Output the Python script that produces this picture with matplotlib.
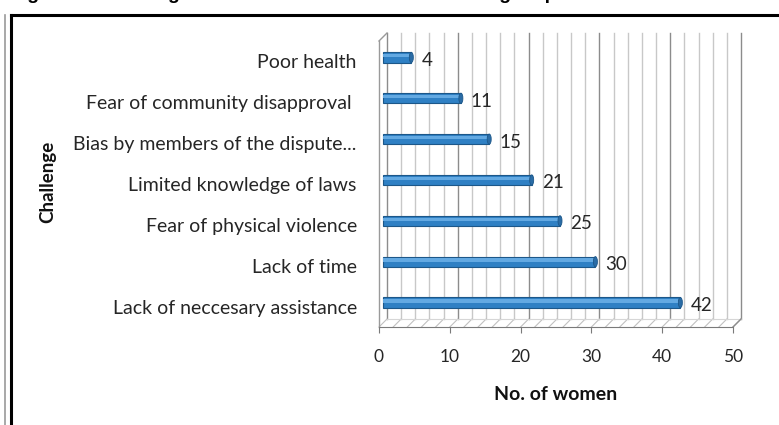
import numpy as np
import matplotlib
matplotlib.use("Agg")
import matplotlib.pyplot as plt
from matplotlib.lines import Line2D
from matplotlib.patches import Ellipse

challenges = ["Lack of neccesary assistance", "Lack of time",
              "Fear of physical violence", "Limited knowledge of laws",
              "Bias by members of the dispute...",
              "Fear of community disapproval ", "Poor health"]
women = [42, 30, 25, 21, 15, 11, 4]
xticks = [0, 10, 20, 30, 40, 50]

W, H = 779, 425
fig = plt.figure(figsize=(W / 100, H / 100), dpi=100)
plt.rcParams["font.family"] = ["Lato", "DejaVu Sans"]

# front plane of the 3-D plot, in pixels
x0, x1, yb, yt = 379, 733, 327, 41
ax = fig.add_axes([x0 / W, 1 - yb / H, (x1 - x0) / W, (yb - yt) / H])
ax.set_xlim(0, 50)
ax.set_ylim(-0.5, 6.5)
ax.patch.set_alpha(0)

# depth offset (8 px right, 8 px up) in data units
ppx = 50 / (x1 - x0)
ppy = 7 / (yb - yt)
ddx, ddy = 8 * ppx, 8 * ppy

# back wall grid
for v in range(0, 51, 2):
    col = "#8c8c8c" if v % 10 == 0 else "#c8c8c8"
    ax.plot([v + ddx, v + ddx], [-0.5 + ddy, 6.5 + ddy], color=col, lw=1.0,
            clip_on=False, zorder=1)
    # floor diagonals
    ax.plot([v, v + ddx], [-0.5, -0.5 + ddy], color="#c0c0c0", lw=0.8,
            clip_on=False, zorder=1)
ax.plot([ddx, 50 + ddx], [-0.5 + ddy, -0.5 + ddy], color="#d6d6d6", lw=0.8,
        clip_on=False, zorder=1)
# left wall
ax.plot([0, 0], [-0.5, 6.5], color="#9a9a9a", lw=1.0, clip_on=False, zorder=1)
ax.plot([0, ddx], [6.5, 6.5 + ddy], color="#9a9a9a", lw=1.0, clip_on=False,
        zorder=1)
ax.plot([50, 50 + ddx], [-0.5, -0.5 + ddy], color="#8c8c8c", lw=1.0,
        clip_on=False, zorder=1)

# bars (cylinders)
yy = np.arange(len(women)) + ddy / 2
bh = 0.25
ax.barh(yy, women, left=ddx / 2, height=bh, color="#2f80c4",
        edgecolor="#1c5789", lw=0.8, zorder=3)
ax.barh(yy + 0.04, women, left=ddx / 2, height=0.08, color="#63a9e2",
        lw=0, zorder=4)
for y, v in zip(yy, women):
    ax.add_patch(Ellipse((ddx / 2 + v, y), 4 * ppx, bh, facecolor="#2a6ca6",
                         edgecolor="#1c5789", lw=0.6, zorder=5))
    ax.text(ddx / 2 + v + 10 * ppx, y - 3 * ppy, str(v), fontsize=13.5,
            color="#262626", va="center", ha="left", zorder=6)

# axes
for s in ["top", "right", "left"]:
    ax.spines[s].set_visible(False)
ax.spines["bottom"].set_color("#7a7a7a")
ax.set_xticks(xticks)
ax.tick_params(axis="x", direction="out", length=4, color="#7a7a7a",
               pad=12, labelsize=12.5, labelcolor="#262626")
ax.set_yticks(np.arange(len(challenges)))
ax.set_yticklabels(challenges)
ax.tick_params(axis="y", length=0, pad=16, labelsize=14,
               labelcolor="#262626")
ax.set_xlabel("No. of women", fontsize=14, fontweight="bold", labelpad=15,
              color="#111111")
fig.text(48 / W, 1 - 182 / H, "Challenge", rotation=90, fontsize=13.5,
         fontweight="bold", ha="center", va="center", color="#111111")

# frame around the chart
fig.add_artist(Line2D([11 / W, 1], [1 - 15 / H, 1 - 15 / H], color="black",
                      lw=2.2, transform=fig.transFigure))
fig.add_artist(Line2D([11 / W, 11 / W], [0, 1 - 15 / H], color="black",
                      lw=2.2, transform=fig.transFigure))
fig.add_artist(Line2D([5 / W, 5 / W], [0, 1 - 15 / H], color="#9a9a9a",
                      lw=1.2, transform=fig.transFigure))

# caption, cut off above the frame: only the descenders show
fig.text(10 / W, 1 + 1 / H, "Figure 4: Challenges women encountered in "
         "resolving disputes", fontsize=14, fontweight="bold",
         family=["Liberation Sans", "DejaVu Sans"], va="baseline", ha="left")

fig.savefig("out.png", dpi=100)
